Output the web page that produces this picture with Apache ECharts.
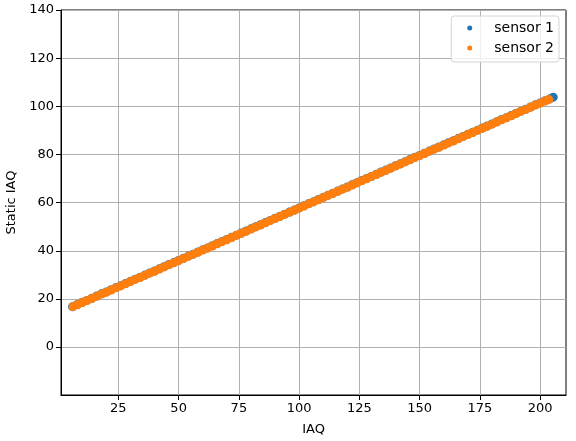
<!DOCTYPE html>
<html>
<head>
<meta charset="utf-8">
<script src="https://cdn.jsdelivr.net/npm/echarts@6/dist/echarts.min.js"></script>
<style>html,body{margin:0;padding:0;background:#fff;}#c{width:576px;height:441px;}</style>
</head>
<body>
<div id="c"></div>
<script>
// Values
const sensor1X = [6,8,10,12,14,16,18,20,22,24,26,28,30,32,34,36,38,40,42,44,46,48,50,52,54,56,58,60,62,64,66,68,70,72,74,76,78,80,82,84,86,88,90,92,94,96,98,100,102,104,106,108,110,112,114,116,118,120,122,124,126,128,130,132,134,136,138,140,142,144,146,148,150,152,154,156,158,160,162,164,166,168,170,172,174,176,178,180,182,184,186,188,190,192,194,196,198,200,202,204,205.4];
const sensor1Y = [16.8,17.7,18.6,19.4,20.3,21.2,22.1,22.9,23.8,24.7,25.5,26.4,27.3,28.2,29.0,29.9,30.8,31.6,32.5,33.4,34.3,35.1,36.0,36.9,37.8,38.6,39.5,40.4,41.2,42.1,43.0,43.9,44.7,45.6,46.5,47.4,48.2,49.1,50.0,50.8,51.7,52.6,53.5,54.3,55.2,56.1,56.9,57.8,58.7,59.6,60.4,61.3,62.2,63.1,63.9,64.8,65.7,66.5,67.4,68.3,69.2,70.0,70.9,71.8,72.7,73.5,74.4,75.3,76.1,77.0,77.9,78.8,79.6,80.5,81.4,82.3,83.1,84.0,84.9,85.7,86.6,87.5,88.4,89.2,90.1,91.0,91.8,92.7,93.6,94.5,95.3,96.2,97.1,98.0,98.8,99.7,100.6,101.4,102.3,103.1,103.8];
const sensor2X = [6.2,8,10,12,14,16,18,20,22,24,26,28,30,32,34,36,38,40,42,44,46,48,50,52,54,56,58,60,62,64,66,68,70,72,74,76,78,80,82,84,86,88,90,92,94,96,98,100,102,104,106,108,110,112,114,116,118,120,122,124,126,128,130,132,134,136,138,140,142,144,146,148,150,152,154,156,158,160,162,164,166,168,170,172,174,176,178,180,182,184,186,188,190,192,194,196,198,200,202,203.6];
const sensor2Y = [16.8,17.6,18.5,19.3,20.2,21.1,22.0,22.8,23.7,24.6,25.4,26.3,27.2,28.1,28.9,29.8,30.7,31.5,32.4,33.3,34.2,35.0,35.9,36.8,37.7,38.5,39.4,40.3,41.1,42.0,42.9,43.8,44.6,45.5,46.4,47.3,48.1,49.0,49.9,50.7,51.6,52.5,53.4,54.2,55.1,56.0,56.8,57.7,58.6,59.5,60.3,61.2,62.1,63.0,63.8,64.7,65.6,66.4,67.3,68.2,69.1,69.9,70.8,71.7,72.6,73.4,74.3,75.2,76.0,76.9,77.8,78.7,79.5,80.4,81.3,82.2,83.0,83.9,84.8,85.6,86.5,87.4,88.3,89.1,90.0,90.9,91.7,92.6,93.5,94.4,95.2,96.1,97.0,97.9,98.7,99.6,100.5,101.3,102.2,102.8];
const xTicks = [25,50,75,100,125,150,175,200];
const yTicks = [0,20,40,60,80,100,120,140];
const seriesNames = ['sensor 1','sensor 2'];

const zip = (xs, ys) => xs.map((x, i) => [x, ys[i]]);
const font = 'DejaVu Sans';
const chart = echarts.init(document.getElementById('c'), null, {renderer: 'canvas'});
chart.setOption({
  animation: false,
  backgroundColor: '#fff',
  grid: {left: 61, right: 10, top: 10, bottom: 46, containLabel: false, outerBoundsMode: 'none', show: true, borderColor: '#000', borderWidth: 1, backgroundColor: 'transparent'},
  legend: {
    orient: 'vertical', right: 17, top: 16,
    data: seriesNames,
    icon: 'circle', itemWidth: 5, itemHeight: 5, itemGap: 6,
    padding: [5, 5, 7, 16],
    backgroundColor: 'rgba(255,255,255,0.8)', borderColor: '#d5d5d5', borderWidth: 1, borderRadius: 3,
    textStyle: {fontFamily: font, fontSize: 14, color: '#000', padding: [0, 0, 0, 17]}
  },
  xAxis: {
    type: 'value', min: 1.2, max: 210.7,
    name: 'IAQ', nameLocation: 'middle', nameGap: 28,
    nameTextStyle: {fontFamily: font, fontSize: 13, color: '#000'},
    axisLine: {show: true, onZero: false, lineStyle: {color: '#000', width: 1}},
    axisTick: {show: true, length: 5, lineStyle: {color: '#000'}, customValues: xTicks},
    axisLabel: {fontFamily: font, fontSize: 13, color: '#000', margin: 7, customValues: xTicks},
    splitLine: {show: true, lineStyle: {color: '#b0b0b0', width: 1}}
  },
  yAxis: {
    type: 'value', min: -19.9, max: 140,
    name: 'Static IAQ', nameLocation: 'middle', nameGap: 43, nameRotate: 90,
    nameTextStyle: {fontFamily: font, fontSize: 13, color: '#000'},
    axisLine: {show: true, onZero: false, lineStyle: {color: '#000', width: 1}},
    axisTick: {show: true, length: 5, lineStyle: {color: '#000'}, customValues: yTicks},
    axisLabel: {fontFamily: font, fontSize: 13, color: '#000', margin: 7, customValues: yTicks},
    splitLine: {show: true, lineStyle: {color: '#b0b0b0', width: 1}}
  },
  series: [
    {name: seriesNames[0], type: 'scatter', data: zip(sensor1X, sensor1Y), symbolSize: 9, itemStyle: {color: '#1f77b4', opacity: 1}},
    {name: seriesNames[1], type: 'scatter', data: zip(sensor2X, sensor2Y), symbolSize: 9, itemStyle: {color: '#ff7f0e', opacity: 1}}
  ]
});
</script>
</body>
</html>
